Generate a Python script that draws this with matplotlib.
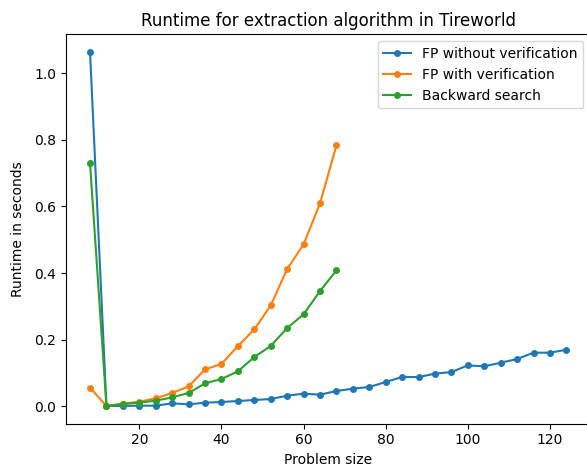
import numpy as np
import matplotlib
matplotlib.use('Agg')
from matplotlib import pyplot as plt

# problem sizes
sizes_fp = list(range(8, 125, 4))
sizes_short = list(range(8, 69, 4))

fp_no_verif = [1.063, 0.001, 0.001, 0.002, 0.002, 0.009, 0.006, 0.011, 0.013, 0.016,
               0.019, 0.022, 0.032, 0.038, 0.035, 0.046, 0.053, 0.058, 0.073, 0.088,
               0.088, 0.098, 0.103, 0.123, 0.120, 0.131, 0.142, 0.161, 0.161, 0.170]
fp_verif = [0.056, 0.001, 0.008, 0.014, 0.024, 0.040, 0.060, 0.111, 0.127, 0.181,
            0.231, 0.303, 0.412, 0.486, 0.609, 0.783]
backward = [0.729, 0.001, 0.007, 0.011, 0.017, 0.027, 0.040, 0.069, 0.082, 0.105,
            0.148, 0.181, 0.235, 0.276, 0.346, 0.408]

fig = plt.figure(figsize=(5.87, 4.74), dpi=100)
ax = fig.add_axes([0.1128, 0.1061, 0.8927, 0.8213])

ax.plot(sizes_fp, fp_no_verif, marker='o', markersize=4, label='FP without verification')
ax.plot(sizes_short, fp_verif, marker='o', markersize=4, label='FP with verification')
ax.plot(sizes_short, backward, marker='o', markersize=4, label='Backward search')

ax.set_title('Runtime for extraction algorithm in Tireworld')
ax.set_xlabel('Problem size')
ax.set_ylabel('Runtime in seconds', labelpad=7)
ax.legend(loc='upper right')

fig.savefig('out.png', dpi=100)
